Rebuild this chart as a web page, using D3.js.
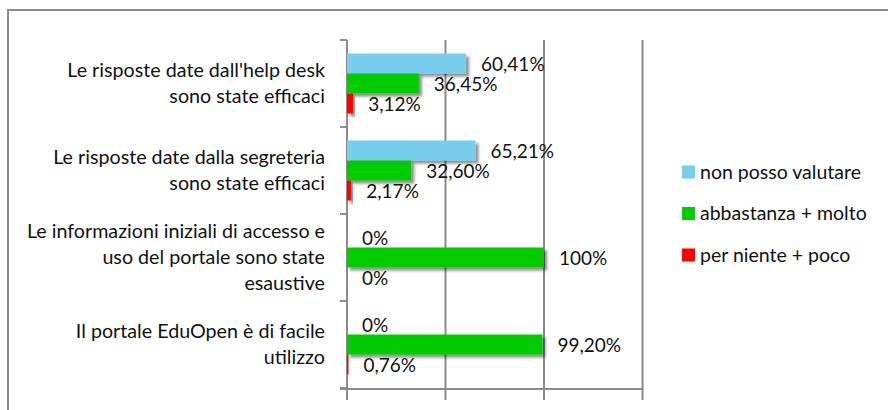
<!DOCTYPE html>
<html>
<head>
<meta charset="utf-8">
<script src="https://cdn.jsdelivr.net/npm/d3@7"></script>
<style>
  body { margin: 0; background: #fff; }
  svg { display: block; font-family: Lato, "Open Sans", sans-serif; }
</style>
</head>
<body>
<svg id="chart" width="888" height="410"></svg>
<script>
// categories, top to bottom (each entry is the wrapped lines)
var categories = [
    ["Le risposte date dall'help desk", "sono state efficaci"],
    ["Le risposte date dalla segreteria", "sono state efficaci"],
    ["Le informazioni iniziali di accesso e", "uso del portale sono state", "esaustive"],
    ["Il portale EduOpen è di facile", "utilizzo"]
];
var series = ["non posso valutare", "abbastanza + molto", "per niente + poco"];
var colors = ["#77cdee", "#00cc00", "#ff0000"];

var nonPosso   = [60.41, 65.21, 0, 0];
var abbastanza = [36.45, 32.60, 100, 99.20];
var perNiente  = [3.12, 2.17, 0, 0.76];
var values = [nonPosso, abbastanza, perNiente];

var xTicks = [0, 50, 100, 150];

var svg = d3.select("#chart");
var grey = "#8c8c8c";

// outer frame (right and bottom sides fall outside the picture)
svg.append("rect")
    .attr("x", 8).attr("y", 10)
    .attr("width", 920).attr("height", 440)
    .attr("fill", "none")
    .attr("stroke", grey)
    .attr("stroke-width", 2);

var defs = svg.append("defs");
defs.append("filter")
    .attr("id", "shadow")
    .attr("x", "-10%").attr("y", "-30%")
    .attr("width", "130%").attr("height", "180%")
  .append("feDropShadow")
    .attr("dx", 3).attr("dy", 3)
    .attr("stdDeviation", 1.8)
    .attr("flood-color", "#000")
    .attr("flood-opacity", 0.45);

var x = d3.scaleLinear().domain([0, 150]).range([347, 642.5]);

var y = d3.scaleBand()
    .domain(d3.range(categories.length))
    .range([40, 388]);

var yInner = d3.scaleBand()
    .domain(d3.range(series.length))
    .range([0, y.bandwidth()])
    .paddingOuter(0.675);

// vertical gridlines (they run down through the axis as ticks)
svg.append("g").selectAll("line")
    .data(xTicks)
    .join("line")
    .attr("x1", function (d) { return x(d); })
    .attr("x2", function (d) { return x(d); })
    .attr("y1", 40)
    .attr("y2", 400)
    .attr("stroke", grey)
    .attr("stroke-width", 2);

// bottom axis line
svg.append("line")
    .attr("x1", 340).attr("x2", x(150) + 1)
    .attr("y1", 389).attr("y2", 389)
    .attr("stroke", grey).attr("stroke-width", 2);

// category ticks on the left
var bounds = d3.range(categories.length).map(function (i) { return y(i); }).concat([388]);
svg.append("g").selectAll("line")
    .data(bounds)
    .join("line")
    .attr("x1", 340).attr("x2", x(0))
    .attr("y1", function (d) { return d; })
    .attr("y2", function (d) { return d; })
    .attr("stroke", grey).attr("stroke-width", 2);

// bars
var fmt = d3.formatLocale({decimal: ",", thousands: ".", grouping: [3], currency: ["", "€"]});
function label(v) {
    return (v === Math.round(v) ? fmt.format("d")(v) : fmt.format(".2f")(v)) + "%";
}

var groups = svg.append("g").selectAll("g")
    .data(categories)
    .join("g")
    .attr("transform", function (d, i) { return "translate(0," + y(i) + ")"; });

groups.each(function (cat, ci) {
    var g = d3.select(this);
    var rows = series.map(function (s, si) { return {si: si, v: values[si][ci]}; });

    g.selectAll("rect")
        .data(rows.filter(function (r) { return r.v > 0; }))
        .join("rect")
        .attr("x", x(0))
        .attr("y", function (r) { return yInner(r.si); })
        .attr("width", function (r) { return Math.max(x(r.v) - x(0), 1.5); })
        .attr("height", yInner.bandwidth())
        .attr("fill", function (r) { return colors[r.si]; })
        .attr("filter", "url(#shadow)");

    g.selectAll("text.val")
        .data(rows)
        .join("text")
        .attr("class", "val")
        .attr("x", function (r) { return x(r.v) + 15; })
        .attr("y", function (r) { return yInner(r.si) + yInner.bandwidth() / 2 + 7.5; })
        .attr("font-size", 19)
        .attr("fill", "#111")
        .text(function (r) { return label(r.v); });

    // category label
    var lh = 25.8;
    var first = y.bandwidth() / 2 + 6.5 - (cat.length - 1) * lh / 2;
    g.append("text")
        .attr("text-anchor", "end")
        .attr("font-size", 19.7)
        .attr("fill", "#111")
        .selectAll("tspan")
        .data(cat)
        .join("tspan")
        .attr("x", 325)
        .attr("y", function (d, i) { return first + i * lh; })
        .text(function (d) { return d; });
});

// legend
var legend = svg.append("g").selectAll("g")
    .data(series)
    .join("g")
    .attr("transform", function (d, i) { return "translate(682," + (172 + i * 41.5) + ")"; });

legend.append("rect")
    .attr("x", 0).attr("y", -6.5)
    .attr("width", 13).attr("height", 13)
    .attr("fill", function (d, i) { return colors[i]; });

legend.append("text")
    .attr("x", 18)
    .attr("y", 6.5)
    .attr("font-size", 19.5)
    .attr("fill", "#111")
    .text(function (d) { return d; });
</script>
</body>
</html>
